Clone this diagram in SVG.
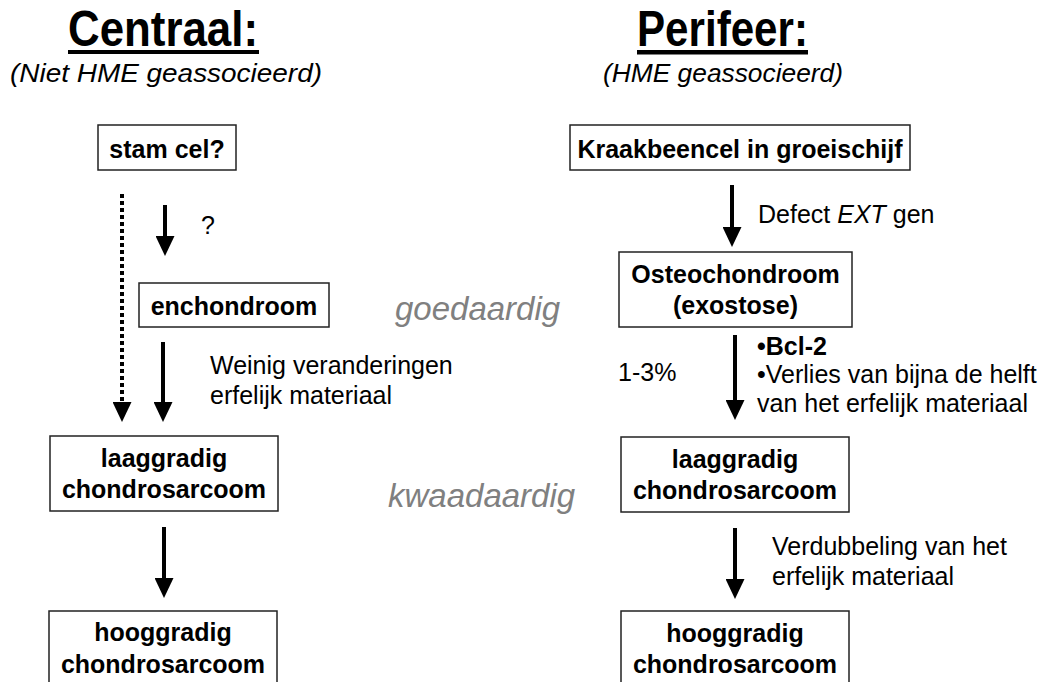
<svg xmlns="http://www.w3.org/2000/svg" width="1050" height="682" viewBox="0 0 1050 682">
<style>
text{font-family:"Liberation Sans",Arial,sans-serif;fill:#000}
.title{font-size:50px;font-weight:bold}
.sub{font-size:25px;font-style:italic}
.box{fill:#fff;stroke:#222;stroke-width:1.5}
.bt{font-size:25px;font-weight:bold;text-anchor:middle}
.lab{font-size:25px}
.gray{font-size:33px;font-style:italic;fill:#808080}
.arr{stroke:#000;stroke-width:4;fill:none;marker-end:url(#ah)}
.dot{stroke-dasharray:4 3}
</style>
<defs>
<marker id="ah" viewBox="0 0 20 19" markerWidth="20" markerHeight="19" refX="10" refY="9.5" orient="auto" markerUnits="userSpaceOnUse">
<path d="M0,0 L20,9.5 L0,19 z" fill="#000"/>
</marker>
</defs>
<g id="titles">
<text class="title" x="68" y="46" textLength="190" lengthAdjust="spacingAndGlyphs">Centraal:</text>
<rect x="68" y="50" width="191" height="4" fill="#000"/>
<text class="sub" x="10" y="82" textLength="312" lengthAdjust="spacingAndGlyphs">(Niet HME geassocieerd)</text>
<text class="title" x="637" y="46" textLength="171" lengthAdjust="spacingAndGlyphs">Perifeer:</text>
<rect x="637" y="50" width="171" height="4.5" fill="#000"/>
<text class="sub" x="603" y="82" textLength="240" lengthAdjust="spacingAndGlyphs">(HME geassocieerd)</text>
</g>
<g id="connectors">
<line class="arr dot" x1="122" y1="194" x2="122" y2="412"/>
<line class="arr" x1="165" y1="205" x2="165" y2="246"/>
<line class="arr" x1="163" y1="342" x2="163" y2="412"/>
<line class="arr" x1="164" y1="527" x2="164" y2="588"/>
<line class="arr" x1="732" y1="185" x2="732" y2="237"/>
<line class="arr" x1="735" y1="335" x2="735" y2="410"/>
<line class="arr" x1="735" y1="528" x2="735" y2="589"/>
</g>
<g id="stamcel"><rect class="box" x="98" y="125" width="138" height="45"/><text class="bt" x="167" y="158">stam cel?</text></g>
<g id="enchondroom"><rect class="box" x="139" y="283" width="190" height="44"/><text class="bt" x="234" y="315">enchondroom</text></g>
<g id="laaggradigL"><rect class="box" x="50" y="436" width="228" height="75"/><text class="bt" x="164" y="467">laaggradig</text><text class="bt" x="164" y="498">chondrosarcoom</text></g>
<g id="hooggradigL"><rect class="box" x="49" y="611" width="228" height="80"/><text class="bt" x="163" y="641">hooggradig</text><text class="bt" x="163" y="673">chondrosarcoom</text></g>
<g id="kraakbeencel"><rect class="box" x="570" y="125" width="340" height="45"/><text class="bt" x="740" y="158">Kraakbeencel in groeischijf</text></g>
<g id="osteochondroom"><rect class="box" x="619" y="252" width="233" height="75"/><text class="bt" x="735.5" y="283">Osteochondroom</text><text class="bt" x="735.5" y="314">(exostose)</text></g>
<g id="laaggradigR"><rect class="box" x="621" y="437" width="228" height="75"/><text class="bt" x="735" y="468">laaggradig</text><text class="bt" x="735" y="499">chondrosarcoom</text></g>
<g id="hooggradigR"><rect class="box" x="621" y="611" width="228" height="80"/><text class="bt" x="735" y="642">hooggradig</text><text class="bt" x="735" y="673">chondrosarcoom</text></g>
<g id="labels">
<text class="lab" x="201" y="234" font-size="30">?</text>
<text class="lab" x="210" y="374">Weinig veranderingen</text>
<text class="lab" x="210" y="404">erfelijk materiaal</text>
<text class="gray" x="395" y="320">goedaardig</text>
<text class="gray" x="388" y="507">kwaadaardig</text>
<text class="lab" x="758" y="223">Defect <tspan font-style="italic">EXT</tspan> gen</text>
<text class="lab" x="618" y="381">1-3%</text>
<text class="lab" x="757" y="355" font-weight="bold">•Bcl-2</text>
<text class="lab" x="757" y="383">•Verlies van bijna de helft</text>
<text class="lab" x="757" y="412">van het erfelijk materiaal</text>
<text class="lab" x="772" y="555">Verdubbeling van het</text>
<text class="lab" x="772" y="585">erfelijk materiaal</text>
</g>
</svg>
